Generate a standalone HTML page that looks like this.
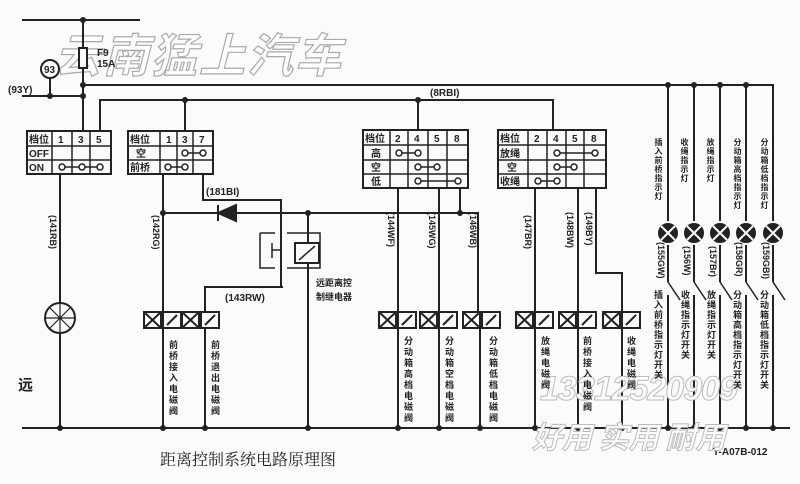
<!DOCTYPE html>
<html><head><meta charset="utf-8"><style>
body{margin:0;background:#fff;}
#w{position:relative;width:800px;height:484px;overflow:hidden;background:#fbfbfa;font-family:"Liberation Sans","Noto Sans CJK SC",sans-serif;}
.v{position:absolute;writing-mode:vertical-rl;font-size:9px;line-height:9px;font-weight:bold;color:#222;letter-spacing:2px;}
.s{font-size:8px;line-height:8px;letter-spacing:1px;}
</style></head><body><div id="w">
<svg width="800" height="484" viewBox="0 0 800 484" style="position:absolute;left:0;top:0" font-family="Liberation Sans, Noto Sans CJK SC, sans-serif">
<text x="55" y="72" font-size="46" font-style="italic" font-weight="bold" fill="#fff" stroke="#aaa" stroke-width="1.2" font-family="Noto Sans CJK SC, sans-serif" letter-spacing="2">云南猛上汽车</text>
<g stroke="#222" stroke-width="2" fill="none">
<path d="M22 20H140M83 20V131M83 85H773V222M22 96H83M50 78V96"/>
<rect x="79" y="48" width="8" height="20" fill="#fbfbfa"/>
<circle cx="50" cy="69" r="9" fill="#fbfbfa"/>
<path d="M100 131V100H553V130M185 100V131M418 100V130"/>
<rect x="27" y="131" width="84" height="43"/><path d="M27 146H111M27 160H111M52 131V174M72 131V174M90 131V174" stroke-width="1.5"/>
<rect x="128" y="131" width="85" height="43"/><path d="M128 146H213M128 160H213M160 131V174M177 131V174M193 131V174" stroke-width="1.5"/>
<rect x="363" y="130" width="105" height="58"/><path d="M363 145H468M363 160H468M363 174H468M390 130V188M408 130V188M428 130V188M447 130V188" stroke-width="1.5"/>
<rect x="498" y="130" width="108" height="58"/><path d="M498 145H606M498 160H606M498 174H606M528 130V188M547 130V188M566 130V188M584 130V188" stroke-width="1.5"/>
<g stroke-width="1.5"><path d="M62 167H100M168 167H185M185 153H203M399 153H418M418 167H437M418 181H458M557 153H595M557 167H574M538 181H557"/>
<circle cx="62" cy="167" r="3" fill="#fbfbfa"/><circle cx="82" cy="167" r="3" fill="#fbfbfa"/><circle cx="100" cy="167" r="3" fill="#fbfbfa"/>
<circle cx="168" cy="167" r="3" fill="#fbfbfa"/><circle cx="185" cy="167" r="3" fill="#fbfbfa"/><circle cx="185" cy="153" r="3" fill="#fbfbfa"/><circle cx="203" cy="153" r="3" fill="#fbfbfa"/>
<circle cx="399" cy="153" r="3" fill="#fbfbfa"/><circle cx="418" cy="153" r="3" fill="#fbfbfa"/><circle cx="418" cy="167" r="3" fill="#fbfbfa"/><circle cx="437" cy="167" r="3" fill="#fbfbfa"/><circle cx="418" cy="181" r="3" fill="#fbfbfa"/><circle cx="458" cy="181" r="3" fill="#fbfbfa"/>
<circle cx="557" cy="153" r="3" fill="#fbfbfa"/><circle cx="595" cy="153" r="3" fill="#fbfbfa"/><circle cx="557" cy="167" r="3" fill="#fbfbfa"/><circle cx="574" cy="167" r="3" fill="#fbfbfa"/><circle cx="538" cy="181" r="3" fill="#fbfbfa"/><circle cx="557" cy="181" r="3" fill="#fbfbfa"/></g>
<path d="M60 174V428M163 174V313M203 174V200H281V287M163 213H478V313M308 213V428M398 188V313M439 188V313M460 188V213M535 188V313M578 188V313M596 188V273H622V313M283 287H205V313"/>
<path d="M668 85V222M694 85V222M720 85V222M746 85V222"/>
<path d="M218 205V221M218 213L236 205V221Z" fill="#222"/>
<path d="M260 233H275M287 233H320V268H287M275 268H260V233" stroke-width="1.5"/>
<rect x="295" y="243" width="24" height="20" fill="#fbfbfa"/><path d="M299 260L315 246" stroke-width="1.5"/>
<path d="M272 243V258M272 250H281" stroke-width="1.5"/>
<circle cx="60" cy="318" r="15" fill="#fbfbfa"/>
<path d="M45 318H75M60 303V333M49 307L71 329M71 307L49 329" stroke-width="1.2"/>
<path d="M22 428H790M163 328V428M205 328V428M398 328V428M439 328V428M480 328V428M535 328V428M578 328V428M622 328V428"/>
<path d="M668 244V282M694 244V282M720 244V282M746 244V282M773 244V282M668 295V428M694 295V428M720 295V428M746 295V428M773 295V428" />
<path d="M668 282L680 300M694 282L706 300M720 282L732 300M746 282L758 300M773 282L785 300" stroke-width="1.5"/>
</g>
<g stroke="#222" stroke-width="2" fill="#fbfbfa">
<g transform="translate(163,320)"><rect x="-19" y="-8" width="17" height="16"/><path d="M-19 -8L-2 8M-2 -8L-19 8" fill="none"/><rect x="0" y="-8" width="18" height="16"/><path d="M4 5L14 -5" fill="none"/></g>
<g transform="translate(201,320)"><rect x="-19" y="-8" width="17" height="16"/><path d="M-19 -8L-2 8M-2 -8L-19 8" fill="none"/><rect x="0" y="-8" width="18" height="16"/><path d="M4 5L14 -5" fill="none"/></g>
<g transform="translate(398,320)"><rect x="-19" y="-8" width="17" height="16"/><path d="M-19 -8L-2 8M-2 -8L-19 8" fill="none"/><rect x="0" y="-8" width="18" height="16"/><path d="M4 5L14 -5" fill="none"/></g>
<g transform="translate(439,320)"><rect x="-19" y="-8" width="17" height="16"/><path d="M-19 -8L-2 8M-2 -8L-19 8" fill="none"/><rect x="0" y="-8" width="18" height="16"/><path d="M4 5L14 -5" fill="none"/></g>
<g transform="translate(482,320)"><rect x="-19" y="-8" width="17" height="16"/><path d="M-19 -8L-2 8M-2 -8L-19 8" fill="none"/><rect x="0" y="-8" width="18" height="16"/><path d="M4 5L14 -5" fill="none"/></g>
<g transform="translate(535,320)"><rect x="-19" y="-8" width="17" height="16"/><path d="M-19 -8L-2 8M-2 -8L-19 8" fill="none"/><rect x="0" y="-8" width="18" height="16"/><path d="M4 5L14 -5" fill="none"/></g>
<g transform="translate(578,320)"><rect x="-19" y="-8" width="17" height="16"/><path d="M-19 -8L-2 8M-2 -8L-19 8" fill="none"/><rect x="0" y="-8" width="18" height="16"/><path d="M4 5L14 -5" fill="none"/></g>
<g transform="translate(622,320)"><rect x="-19" y="-8" width="17" height="16"/><path d="M-19 -8L-2 8M-2 -8L-19 8" fill="none"/><rect x="0" y="-8" width="18" height="16"/><path d="M4 5L14 -5" fill="none"/></g>
</g>
<g stroke="#fbfbfa" stroke-width="2">
<circle cx="668" cy="233" r="11" fill="#222"/><path d="M661 226L675 240M675 226L661 240"/>
<circle cx="694" cy="233" r="11" fill="#222"/><path d="M687 226L701 240M701 226L687 240"/>
<circle cx="720" cy="233" r="11" fill="#222"/><path d="M713 226L727 240M727 226L713 240"/>
<circle cx="746" cy="233" r="11" fill="#222"/><path d="M739 226L753 240M753 226L739 240"/>
<circle cx="773" cy="233" r="11" fill="#222"/><path d="M766 226L780 240M780 226L766 240"/>
</g>
<g fill="#222"><circle cx="83" cy="20" r="3"/><circle cx="83" cy="85" r="3"/><circle cx="83" cy="96" r="3"/><circle cx="50" cy="96" r="3"/><circle cx="185" cy="100" r="3"/><circle cx="418" cy="100" r="3"/><circle cx="163" cy="213" r="3"/><circle cx="308" cy="213" r="3"/><circle cx="460" cy="213" r="3"/>
<circle cx="668" cy="85" r="3"/><circle cx="694" cy="85" r="3"/><circle cx="720" cy="85" r="3"/><circle cx="746" cy="85" r="3"/>
<circle cx="60" cy="428" r="3"/><circle cx="163" cy="428" r="3"/><circle cx="205" cy="428" r="3"/><circle cx="308" cy="428" r="3"/><circle cx="398" cy="428" r="3"/><circle cx="439" cy="428" r="3"/><circle cx="480" cy="428" r="3"/><circle cx="535" cy="428" r="3"/><circle cx="578" cy="428" r="3"/><circle cx="622" cy="428" r="3"/><circle cx="668" cy="428" r="3"/><circle cx="694" cy="428" r="3"/><circle cx="720" cy="428" r="3"/><circle cx="746" cy="428" r="3"/><circle cx="773" cy="428" r="3"/></g>
<g font-size="10" font-weight="bold" fill="#222">
<text x="97" y="56">F9</text><text x="97" y="67">15A</text>
<text x="44" y="73">93</text>
<text x="8" y="93">(93Y)</text>
<text x="430" y="96">(8RBI)</text>
<text x="206" y="195">(181BI)</text>
<text x="225" y="301">(143RW)</text>
<text x="29" y="143">档位</text><text x="58" y="143">1</text><text x="78" y="143">3</text><text x="96" y="143">5</text><text x="29" y="157">OFF</text><text x="29" y="171">ON</text>
<text x="130" y="143">档位</text><text x="166" y="143">1</text><text x="182" y="143">3</text><text x="199" y="143">7</text><text x="136" y="157">空</text><text x="130" y="171">前桥</text>
<text x="365" y="142">档位</text><text x="395" y="142">2</text><text x="414" y="142">4</text><text x="434" y="142">5</text><text x="454" y="142">8</text><text x="371" y="157">高</text><text x="371" y="171">空</text><text x="371" y="185">低</text>
<text x="500" y="142">档位</text><text x="534" y="142">2</text><text x="553" y="142">4</text><text x="572" y="142">5</text><text x="591" y="142">8</text><text x="500" y="157">放绳</text><text x="507" y="171">空</text><text x="500" y="185">收绳</text>
<text x="316" y="286" font-size="9">远距离控</text><text x="316" y="300" font-size="9">制继电器</text>
<text x="713" y="455">T-A07B-012</text>
</g>
<g font-size="9" font-weight="bold" fill="#222">
<text transform="translate(50,215) rotate(90)">(141RB)</text>
<text transform="translate(153,215) rotate(90)">(142RG)</text>
<text transform="translate(388,212) rotate(90)">(144WF)</text>
<text transform="translate(429,212) rotate(90)">(145WG)</text>
<text transform="translate(470,212) rotate(90)">(146WB)</text>
<text transform="translate(525,215) rotate(90)">(147BR)</text>
<text transform="translate(567,212) rotate(90)">(148BW)</text>
<text transform="translate(586,212) rotate(90)">(149BY)</text>
<text transform="translate(658,242) rotate(90)">(155GW)</text>
<text transform="translate(684,246) rotate(90)">(156W)</text>
<text transform="translate(710,246) rotate(90)">(157Br)</text>
<text transform="translate(736,242) rotate(90)">(158GR)</text>
<text transform="translate(763,242) rotate(90)">(159GBl)</text>
</g>
<text x="18" y="390" font-size="15" font-weight="bold" fill="#222" font-family="Noto Sans CJK SC, sans-serif">远</text>
<text x="160" y="465" font-size="16" fill="#222" font-family="Noto Serif CJK SC, serif">距离控制系统电路原理图</text>
<text x="540" y="400" font-size="34" font-style="italic" font-weight="bold" fill="#fff" stroke="#bbb" stroke-width="1" letter-spacing="-1">13312520909</text>
<text x="532" y="448" font-size="30" font-style="italic" font-weight="bold" fill="#fff" stroke="#bbb" stroke-width="1" font-family="Noto Sans CJK SC, sans-serif">好用 实用 耐用</text>
</svg>
<div class="v" style="left:168px;top:340px">前桥接入电磁阀</div>
<div class="v" style="left:210px;top:340px">前桥退出电磁阀</div>
<div class="v" style="left:403px;top:336px">分动箱高档电磁阀</div>
<div class="v" style="left:444px;top:336px">分动箱空档电磁阀</div>
<div class="v" style="left:488px;top:336px">分动箱低档电磁阀</div>
<div class="v" style="left:540px;top:336px">放绳电磁阀</div>
<div class="v" style="left:582px;top:336px">前桥接入电磁阀</div>
<div class="v" style="left:626px;top:336px">收绳电磁阀</div>
<div class="v s" style="left:654px;top:138px">插入前桥指示灯</div>
<div class="v s" style="left:680px;top:138px">收绳指示灯</div>
<div class="v s" style="left:706px;top:138px">放绳指示灯</div>
<div class="v s" style="left:733px;top:138px">分动箱高档指示灯</div>
<div class="v s" style="left:760px;top:138px">分动箱低档指示灯</div>
<div class="v" style="left:653px;top:290px;letter-spacing:1px">插入前桥指示灯开关</div>
<div class="v" style="left:680px;top:290px;letter-spacing:1px">收绳指示灯开关</div>
<div class="v" style="left:706px;top:290px;letter-spacing:1px">放绳指示灯开关</div>
<div class="v" style="left:732px;top:290px;letter-spacing:1px">分动箱高档指示灯开关</div>
<div class="v" style="left:759px;top:290px;letter-spacing:1px">分动箱低档指示灯开关</div>
</div></body></html>
